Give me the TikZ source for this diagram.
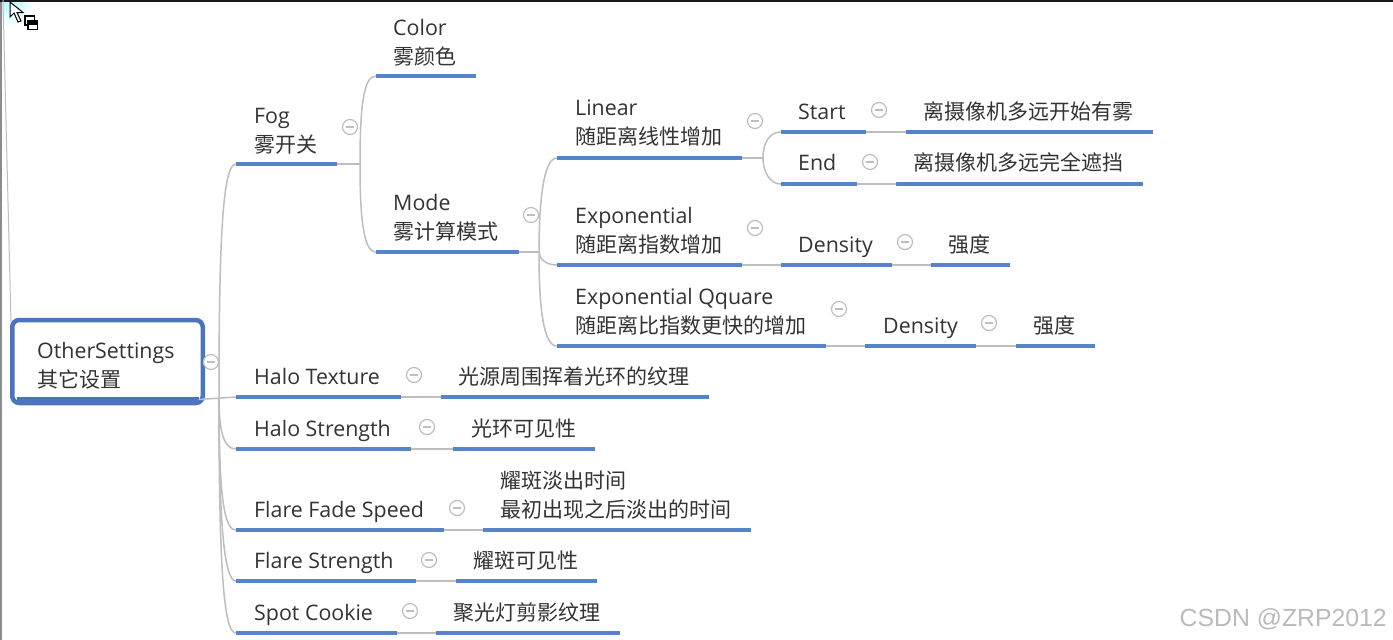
\documentclass[tikz,border=0pt]{standalone}
\usepackage{fontspec}
\setmainfont{Open Sans}[Scale=1.018]
\newfontfamily\cjk{Noto Sans CJK SC}
\newfontfamily\wmfont{Liberation Sans}
\newcommand{\cn}[1]{{\cjk #1}}
\definecolor{barblue}{HTML}{5585C8}
\definecolor{rootblue}{HTML}{4A74BC}
\definecolor{linkgray}{HTML}{BEBEBE}
\definecolor{inkdark}{HTML}{333333}
\tikzset{
  lbl/.style={anchor=base west,inner sep=0pt,align=left,text=inkdark,
    font=\fontsize{21}{29}\selectfont},
  barline/.style={fill=barblue,draw=none,inner sep=0pt,minimum height=4.5pt,rectangle},
  conn/.style={draw=linkgray,line width=1.5pt},
  fold/.style={circle,draw=linkgray,line width=1.2pt,fill=white,inner sep=0pt,minimum size=15pt,
    path picture={\draw[linkgray,line width=1.2pt] ([xshift=-4pt]path picture bounding box.center) -- ([xshift=4pt]path picture bounding box.center);}},
  wm/.style={anchor=base east,inner sep=0pt,text=black!27,font=\wmfont\fontsize{24.8}{28}\selectfont},
}
% [text offset above bar], id, x1, x2, bar y, text x, text
\newcommand{\topic}[6][13]{%
  \node[barline,minimum width=#4pt-#3pt,anchor=center] (#2) at ({(#3+#4)/2},#5) {};
  \node[lbl] (#2t) at (#6,#5-#1) {\topictext};
}
\newcommand{\topictext}{}
\newcommand{\tp}[7][13]{\renewcommand{\topictext}{#7}\topic[#1]{#2}{#3}{#4}{#5}{#6}}
\begin{document}
\begin{tikzpicture}[x=1pt,y=-1pt]
\useasboundingbox (0,0) rectangle (1393,640);
\begin{scope}
\clip (0,0) rectangle (1393,640);
\fill[white] (0,0) rectangle (1393,640);
\shade[inner color=cyan!32,outer color=white] (10,2) circle [radius=24];
% screen-edge artefacts
\fill[black!45] (0,0) rectangle (1.6,640);
\fill[black!90] (0,0) rectangle (1393,2);
\coordinate (edgetop) at (3,0);
\coordinate (edgeend) at (11,322);
\draw[conn,line width=1pt] (edgetop) -- (edgeend);
% cursor
\draw[black,fill=white,line width=1pt,line join=miter]
  (10,2) -- (10,17) -- (14,13) -- (18,22) -- (21,21) -- (17,12.5) -- (23,12.5) -- cycle;
\draw[black,fill=white,line width=1.4pt] (25,16) rectangle (34.5,25);
\draw[black,fill=white,line width=1.4pt] (28,21) rectangle (37.5,29.5);
\fill[black] (28,21) rectangle (37.5,24.5);

% root
\node[draw=rootblue,line width=4.5pt,rounded corners=7pt,fill=white,minimum width=190.5pt,minimum height=83pt,inner sep=0pt,anchor=center] (root) at (107.5,361.5) {};
\node[barline,fill=rootblue,minimum width=182pt,minimum height=5pt,anchor=center] (rootbar) at (107.5,399.5) {};
\node[lbl] (roott) at (37,387) {OtherSettings\\\cn{其它设置}};

\tp[12]{color}{376}{476}{76}{393}{Color\\\cn{雾颜色}}
\tp[12]{fog}{236}{337}{164}{254}{Fog\\\cn{雾开关}}
\tp{mode}{376}{519}{252}{393}{Mode\\\cn{雾计算模式}}
\tp[14]{linear}{557}{742}{158}{575}{Linear\\\cn{随距离线性增加}}
\tp{start}{781}{866}{132}{798}{Start}
\tp{startd}{906}{1153}{132}{923}{\cn{离摄像机多远开始有雾}}
\tp[14]{end}{781}{857}{184}{798}{End}
\tp[14]{endd}{896}{1143}{184}{913}{\cn{离摄像机多远完全遮挡}}
\tp{expo}{557}{742}{265}{575}{Exponential\\\cn{随距离指数增加}}
\tp{dens}{781}{892}{265}{798}{Density}
\tp{densd}{931}{1010}{265}{948}{\cn{强度}}
\tp{qq}{557}{826}{346}{575}{Exponential Qquare\\\cn{随距离比指数更快的增加}}
\tp{densb}{865}{976}{346}{883}{Density}
\tp{densbd}{1016}{1095}{346}{1033}{\cn{强度}}
\tp{ht}{236}{401}{397}{254}{Halo Texture}
\tp{htd}{441}{709}{397}{458}{\cn{光源周围挥着光环的纹理}}
\tp{hs}{236}{411}{449}{254}{Halo Strength}
\tp{hsd}{453}{595}{449}{471}{\cn{光环可见性}}
\tp{ff}{236}{444}{530}{254}{Flare Fade Speed}
\tp{ffd}{483}{751}{530}{500}{\cn{耀斑淡出时间}\\\cn{最初出现之后淡出的时间}}
\tp{fs}{236}{416}{581}{254}{Flare Strength}
\tp{fsd}{456}{597}{581}{473}{\cn{耀斑可见性}}
\tp{sc}{236}{397}{633}{254}{Spot Cookie}
\tp{scd}{436}{620}{633}{453}{\cn{聚光灯剪影纹理}}

% split points
\coordinate (jroot) at (219,398);
\coordinate (jfog) at (360,164);
\coordinate (jmode) at (539,252);
\coordinate (jlin) at (763,158);

\draw[conn] (rootbar.east) -- (ht.west);
\draw[conn] (jroot) .. controls (219,250) and (222,164) .. (fog.west);
\draw[conn] (jroot) .. controls (219,425) and (222,449) .. (hs.west);
\draw[conn] (jroot) .. controls (219,480) and (222,530) .. (ff.west);
\draw[conn] (jroot) .. controls (219,510) and (223,581) .. (fs.west);
\draw[conn] (jroot) .. controls (219,560) and (223,633) .. (sc.west);

\draw[conn] (fog.east) -- (jfog);
\draw[conn] (jfog) .. controls (360,110) and (363,76) .. (color.west);
\draw[conn] (jfog) .. controls (360,215) and (363,252) .. (mode.west);

\draw[conn] (mode.east) -- (jmode);
\draw[conn] (jmode) .. controls (539,205) and (543,158) .. (linear.west);
\draw[conn] (jmode) .. controls (539,258) and (545,265) .. (expo.west);
\draw[conn] (jmode) .. controls (539,305) and (543,346) .. (qq.west);

\draw[conn] (linear.east) -- (jlin);
\draw[conn] (jlin) .. controls (763,142) and (770,132) .. (start.west);
\draw[conn] (jlin) .. controls (763,172) and (770,184) .. (end.west);

\draw[conn] (start.east) -- (startd.west);
\draw[conn] (end.east) -- (endd.west);
\draw[conn] (expo.east) -- (dens.west);
\draw[conn] (dens.east) -- (densd.west);
\draw[conn] (qq.east) -- (densb.west);
\draw[conn] (densb.east) -- (densbd.west);
\draw[conn] (ht.east) -- (htd.west);
\draw[conn] (hs.east) -- (hsd.west);
\draw[conn] (ff.east) -- (ffd.west);
\draw[conn] (fs.east) -- (fsd.west);
\draw[conn] (sc.east) -- (scd.west);

% fold markers
\foreach \n/\x/\y in {r/211/362,a/350/127,b/531/215,c/755/121,d/879/110,e/870/162,f/755/228,g/905/242,h/839/309,i/989/323,j/414/375,k/427/427,l/457/508,m/429/560,o/410/611}
  \node[fold] (fold\n) at (\x,\y) {};

\node[wm] (mark) at (1387,626) {CSDN @ZRP2012};
\end{scope}
\end{tikzpicture}
\end{document}
